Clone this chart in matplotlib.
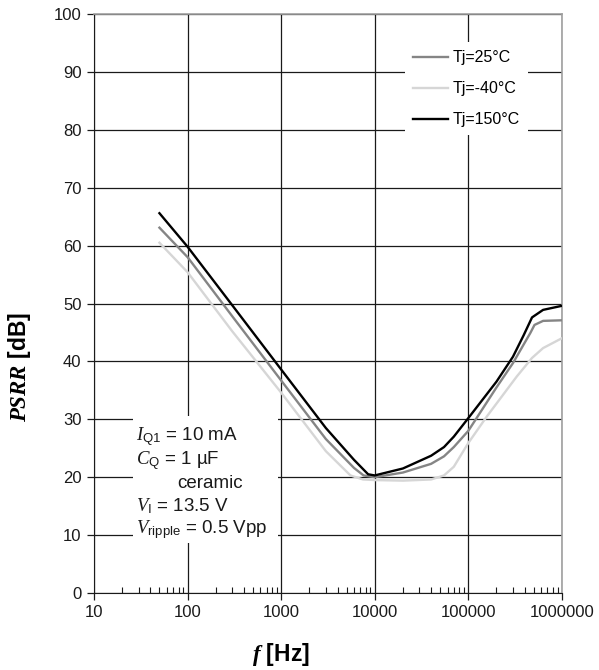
import numpy as np
import matplotlib
matplotlib.use("Agg")
import matplotlib.pyplot as plt
from matplotlib.ticker import FixedLocator, FuncFormatter, NullFormatter
from matplotlib.patches import Rectangle

plt.rcParams["font.family"] = ["Liberation Sans", "DejaVu Sans"]
plt.rcParams["mathtext.fontset"] = "custom"
plt.rcParams["mathtext.it"] = "Liberation Serif:italic"
plt.rcParams["mathtext.bf"] = "Liberation Serif:italic:bold"
plt.rcParams["mathtext.rm"] = "Liberation Sans"

# Tj = 150 C
f_150 = [50, 100, 300, 1000, 3000, 6000, 8500, 10000, 20000, 40000, 55000,
         70000, 100000, 200000, 300000, 390000, 480000, 630000, 1000000]
p_150 = [65.6, 59.8, 49.7, 38.6, 28.5, 23.0, 20.5, 20.3, 21.5, 23.7, 25.2,
         27.0, 30.2, 36.5, 40.8, 44.5, 47.6, 48.9, 49.6]
# Tj = 25 C
f_25 = [50, 100, 300, 1000, 3000, 6000, 7600, 10000, 20000, 40000, 55000,
        70000, 100000, 200000, 300000, 390000, 460000, 510000, 630000, 1000000]
p_25 = [63.1, 58.0, 47.8, 36.7, 26.6, 21.6, 20.3, 20.0, 20.8, 22.3, 23.6,
        25.2, 28.0, 35.5, 39.7, 42.9, 44.9, 46.3, 47.0, 47.1]
# Tj = -40 C
f_m40 = [50, 100, 300, 1000, 3000, 5500, 7500, 10000, 20000, 40000, 55000,
         70000, 100000, 158000, 330000, 480000, 630000, 1000000]
p_m40 = [60.5, 55.4, 45.2, 34.6, 24.5, 20.3, 19.6, 19.5, 19.4, 19.6, 20.3,
         21.8, 25.9, 30.5, 37.4, 40.6, 42.3, 44.0]

series = [("Tj=25°C", f_25, p_25, "#858585"),
          ("Tj=-40°C", f_m40, p_m40, "#d6d6d6"),
          ("Tj=150°C", f_150, p_150, "#000000")]

xticks = [10, 100, 1000, 10000, 100000, 1000000]
yticks = list(range(0, 101, 10))

fig = plt.figure(figsize=(5.99, 6.70), dpi=100)
ax = fig.add_axes([0.157, 0.115, 0.781, 0.864])

for lab, f, p, col in series:
    ax.plot(f, p, color=col, lw=1.7, label=lab, zorder=4,
            solid_joinstyle="round")

ax.set_xscale("log")
ax.set_xlim(10, 1e6)
ax.set_ylim(0, 100)
ax.xaxis.set_major_locator(FixedLocator(xticks))
ax.xaxis.set_major_formatter(FuncFormatter(lambda v, _: "%d" % round(v)))
ax.xaxis.set_minor_locator(FixedLocator(
    [m * 10 ** d for d in range(1, 6) for m in range(2, 10)]))
ax.xaxis.set_minor_formatter(NullFormatter())
ax.yaxis.set_major_locator(FixedLocator(yticks))
ax.grid(True, which="major", color="#1a1a1a", lw=0.9, zorder=1)
ax.set_axisbelow(True)

ax.tick_params(axis="both", which="major", direction="out", length=5,
               width=0.9, labelsize=12, colors="#1a1a1a", pad=4)
ax.tick_params(axis="x", which="minor", direction="in", length=4, width=0.8,
               color="#1a1a1a")
for s in ("left", "bottom"):
    ax.spines[s].set_color("#1a1a1a")
for s in ("top", "right"):
    ax.spines[s].set_color("#a0a0a0")
    ax.spines[s].set_linewidth(1.2)

ax.set_ylabel(r"$\mathbf{PSRR}$ [dB]", fontsize=16.5, fontweight="bold")
ax.yaxis.set_label_coords(-0.130, 0.39)
ax.set_xlabel(r"$\mathbf{f}$ [Hz]", fontsize=16.5, fontweight="bold",
              va="top")
ax.xaxis.set_label_coords(0.40, -0.083)

leg = ax.legend(loc="upper right", bbox_to_anchor=(0.945, 0.965),
                frameon=True, fancybox=False, framealpha=1, edgecolor="none",
                fontsize=11.5, handlelength=2.2, handletextpad=0.3,
                labelspacing=1.0, borderpad=0.5)
leg.set_zorder(5)

# condition box
ax.add_patch(Rectangle((0.083, 0.087), 0.31, 0.218, transform=ax.transAxes,
                       facecolor="white", edgecolor="none", zorder=2))
lines = [(0.090, 0.270, r"$I_{\mathrm{Q1}}$ = 10 mA"),
         (0.090, 0.229, r"$C_{\mathrm{Q}}$ = 1 µF"),
         (0.178, 0.189, "ceramic"),
         (0.090, 0.150, r"$V_{\mathrm{I}}$ = 13.5 V"),
         (0.090, 0.109, r"$V_{\mathrm{ripple}}$ = 0.5 Vpp")]
for x, y, t in lines:
    ax.text(x, y, t, transform=ax.transAxes, fontsize=13.5, color="#1a1a1a",
            ha="left", va="center", zorder=3)

fig.savefig("out.png", dpi=100)
